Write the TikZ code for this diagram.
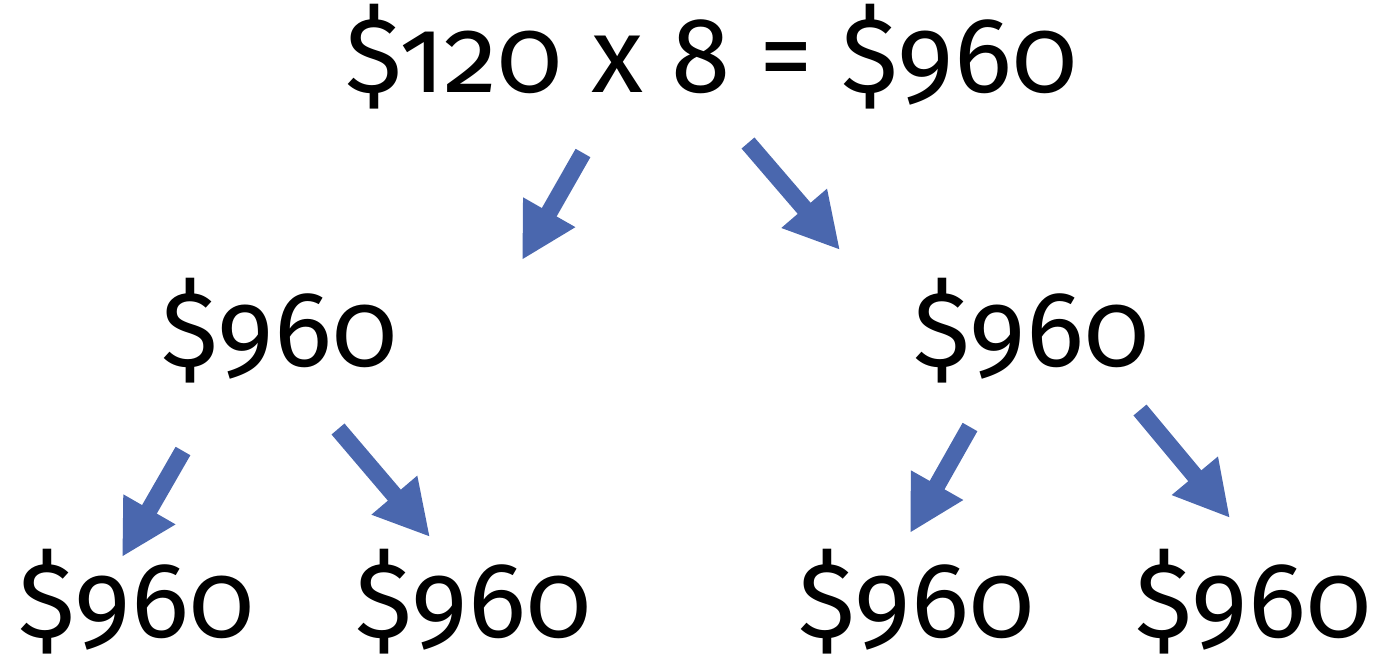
\documentclass[tikz,border=0pt]{standalone}
\usepackage{fontspec}
\setmainfont[Numbers={OldStyle,Proportional}]{Fira Sans}
\usetikzlibrary{arrows.meta}
\definecolor{arrowblue}{RGB}{74,103,174}
\tikzset{
    amount/.style={anchor=base, inner sep=0pt, font=\fontsize{61}{72}\selectfont},
    split/.style={arrowblue, line width=0.34cm,
                  -{Triangle[length=1.1cm, width=1.12cm]}},
}

\begin{document}
\begin{tikzpicture}[x=0.02cm, y=-0.02cm]

    \useasboundingbox (0,0) rectangle (1389,659);

    % amounts
    \node[amount] (top) at (711,92) {\$120 x 8 = \$960};
    \node[amount] (midL) at (279,366) {\$960};
    \node[amount] (midR) at (1031,366) {\$960};
    \node[amount] (botLL) at (136,637) {\$960};
    \node[amount] (botLR) at (473,637) {\$960};
    \node[amount] (botRL) at (916,637) {\$960};
    \node[amount] (botRR) at (1253,637) {\$960};

    % arrow ends
    \coordinate (s1) at (583,153); \coordinate (e1) at (522,260);
    \coordinate (s2) at (748,143); \coordinate (e2) at (840,250);
    \coordinate (s3) at (183,451); \coordinate (e3) at (122,557);
    \coordinate (s4) at (338,429); \coordinate (e4) at (430,537);
    \coordinate (s5) at (970,427); \coordinate (e5) at (910,533);
    \coordinate (s6) at (1140,410); \coordinate (e6) at (1230,518);

    \draw[split] (s1) -- (e1);
    \draw[split] (s2) -- (e2);
    \draw[split] (s3) -- (e3);
    \draw[split] (s4) -- (e4);
    \draw[split] (s5) -- (e5);
    \draw[split] (s6) -- (e6);

\end{tikzpicture}
\end{document}
